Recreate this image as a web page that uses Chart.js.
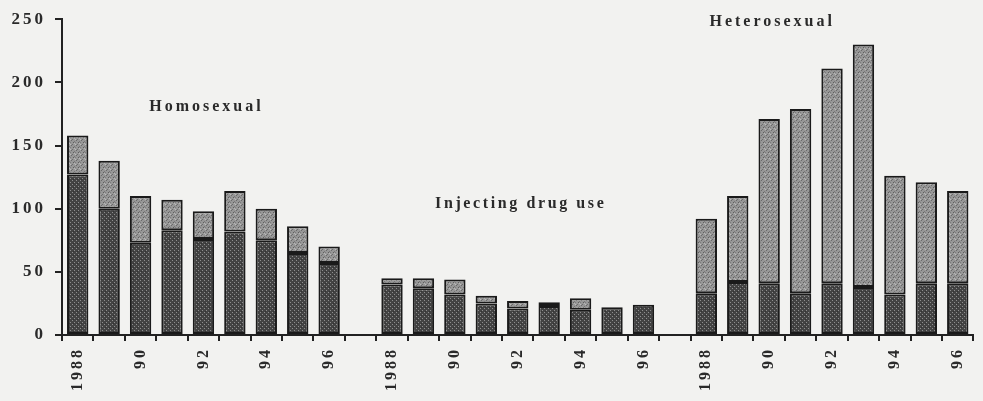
<!DOCTYPE html>
<html>
<head>
<meta charset="utf-8">
<script src="https://cdn.jsdelivr.net/npm/chart.js@4.4.1/dist/chart.umd.min.js"></script>
<style>
  html, body { margin: 0; padding: 0; background: #f2f2f0; }
  canvas { display: block; }
</style>
</head>
<body>
<canvas id="chart" width="983" height="401"></canvas>
<script>
const years = ["1988", "89", "90", "91", "92", "93", "94", "95", "96"];
const shownYears = ["1988", "90", "92", "94", "96"];
const groupNames = ["Homosexual", "Injecting drug use", "Heterosexual"];

// whole bar height and the dark lower part, per year
const homoTotal = [158, 138, 110, 107, 98, 114, 100, 86, 70];
const homoLower = [127, 100, 73, 83, 76, 82, 75, 65, 57];
const iduTotal = [45, 45, 44, 31, 27, 26, 29, 22, 24];
const iduLower = [40, 37, 32, 25, 21, 23, 20, 22, 24];
const heteroTotal = [92, 110, 171, 179, 211, 230, 126, 121, 114];
const heteroLower = [33, 42, 41, 33, 41, 38, 32, 41, 41];

const yTicks = [0, 50, 100, 150, 200, 250];

// build the 29 categories, an empty slot between groups
const labels = [];
const lowerData = [];
const upperData = [];
[[homoTotal, homoLower], [iduTotal, iduLower], [heteroTotal, heteroLower]].forEach(([tot, low], g) => {
  if (g > 0) {
    labels.push("");
    lowerData.push(null);
    upperData.push(null);
  }
  years.forEach((y, i) => {
    labels.push(y);
    lowerData.push(low[i]);
    upperData.push(tot[i] - low[i] > 0 ? tot[i] - low[i] : null);
  });
});

function makePattern(base, marks, size) {
  const c = document.createElement("canvas");
  c.width = size;
  c.height = size;
  const g = c.getContext("2d");
  g.fillStyle = base;
  g.fillRect(0, 0, size, size);
  marks.forEach(([x, y, col]) => {
    g.fillStyle = col;
    g.fillRect(x, y, 1, 1);
  });
  return g.createPattern(c, "repeat");
}

const darkFill = makePattern("#434343", [[0, 0, "#8e8e8e"], [2, 2, "#8e8e8e"], [1, 3, "#333"]], 4);
const lightFill = makePattern("#979797", [
  [1, 0, "#6a6a6a"], [3, 2, "#5f5f5f"], [0, 4, "#bdbdbd"], [4, 1, "#777"],
  [2, 4, "#6d6d6d"], [4, 3, "#b5b5b5"], [0, 2, "#7c7c7c"]
], 5);

const bgPlugin = {
  id: "bg",
  beforeDraw(chart) {
    const c = chart.ctx;
    c.save();
    c.fillStyle = "#f2f2f0";
    c.fillRect(0, 0, chart.width, chart.height);
    c.restore();
    c.letterSpacing = "3px";
  }
};

// group names written over the bars
const groupLabels = {
  id: "groupLabels",
  afterDatasetsDraw(chart) {
    const c = chart.ctx;
    const x = chart.scales.x;
    const y = chart.scales.y;
    const spots = [[4, 181], [14, 104], [22, 248]];
    c.save();
    c.font = "bold 16px 'Liberation Serif'";
    c.fillStyle = "#2a2a2a";
    c.textAlign = "center";
    c.textBaseline = "middle";
    groupNames.forEach((name, i) => {
      c.letterSpacing = i === 1 ? "2.6px" : "3px";
      c.fillText(name, x.getPixelForValue(spots[i][0]) + 3, y.getPixelForValue(spots[i][1]));
    });
    c.restore();
  }
};

new Chart(document.getElementById("chart"), {
  type: "bar",
  data: {
    labels: labels,
    datasets: [
      {
        data: lowerData,
        backgroundColor: darkFill,
        borderColor: "#1a1a1a",
        borderWidth: 2,
        borderSkipped: false,
        categoryPercentage: 1,
        barPercentage: 0.68
      },
      {
        data: upperData,
        backgroundColor: lightFill,
        borderColor: "#1a1a1a",
        borderWidth: 2,
        borderSkipped: false,
        categoryPercentage: 1,
        barPercentage: 0.68
      }
    ]
  },
  options: {
    responsive: false,
    animation: false,
    layout: { padding: { top: 15, right: 3, left: 0, bottom: 0 } },
    plugins: {
      legend: { display: false },
      tooltip: { enabled: false }
    },
    scales: {
      x: {
        stacked: true,
        offset: true,
        afterFit(scale) { scale.height = 66; },
        border: { color: "#222", width: 2 },
        grid: {
          offset: true,
          drawOnChartArea: false,
          tickLength: 6,
          color: "#222",
          lineWidth: 2
        },
        ticks: {
          autoSkip: false,
          minRotation: 90,
          maxRotation: 90,
          padding: 6,
          color: "#2a2a2a",
          font: { family: "'Liberation Serif'", size: 16, weight: "bold" },
          callback(val) {
            const l = this.getLabelForValue(val);
            return shownYears.includes(l) ? l : "";
          }
        }
      },
      y: {
        stacked: true,
        min: 0,
        max: 250,
        afterFit(scale) { scale.width = 62; },
        afterBuildTicks(scale) { scale.ticks = yTicks.map(v => ({ value: v })); },
        border: { color: "#222", width: 2 },
        grid: {
          drawOnChartArea: false,
          tickLength: 7,
          color: "#222",
          lineWidth: 2
        },
        ticks: {
          padding: 9,
          color: "#2a2a2a",
          font: { family: "'Liberation Serif'", size: 17, weight: "bold" }
        }
      }
    }
  },
  plugins: [bgPlugin, groupLabels]
});
</script>
</body>
</html>
